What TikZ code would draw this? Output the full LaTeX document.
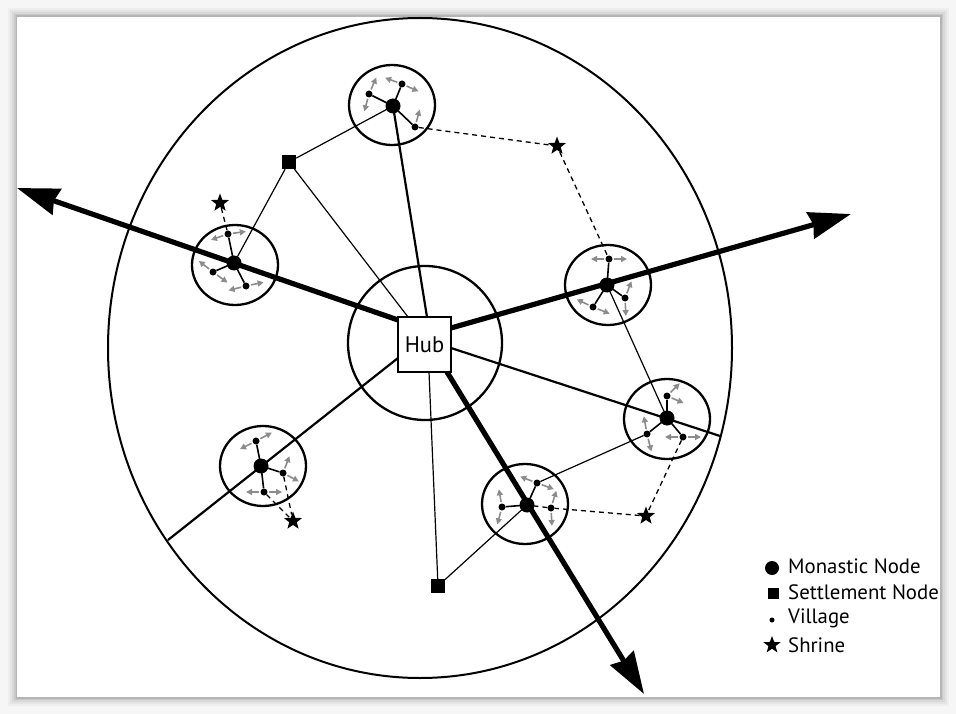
\documentclass[tikz,border=0pt]{standalone}
\usepackage{fontspec}
\setmainfont{PT Sans}
\usetikzlibrary{arrows.meta,shapes.geometric,calc}
\definecolor{garrowc}{RGB}{140,140,140}
\definecolor{pagebg}{RGB}{246,246,246}
\begin{document}
\begin{tikzpicture}[x=1pt,y=-1pt,
  mono/.style={circle,fill=black,inner sep=0pt,minimum size=14pt},
  vil/.style={circle,fill=black,inner sep=0pt,minimum size=7pt},
  settle/.style={rectangle,fill=black,inner sep=0pt,minimum size=14pt},
  shrine/.style={star,star points=5,star point ratio=2.4,fill=black,inner sep=0pt,minimum size=19pt},
  ring/.style={line width=2.3pt},
  thickarrow/.style={line width=5.2pt,-{Stealth[length=42pt,width=27pt,inset=3pt]}},
  medline/.style={line width=2.2pt},
  thinline/.style={line width=1.2pt},
  spoke/.style={line width=1.6pt},
  dashline/.style={line width=1.3pt,dash pattern=on 5pt off 4pt},
  garrow/.style={draw=garrowc,line width=1.6pt,-{Triangle[length=6pt,width=6pt]}},
  legtext/.style={anchor=west,inner sep=0pt,font=\fontsize{20.8}{24}\selectfont}
]
% page and frame
\fill[pagebg] (0,0) rectangle (956,714);
\foreach \i/\o in {9/0.03,7/0.04,5/0.05,3/0.07,1.5/0.09}{
  \fill[black,opacity=\o] (17-\i,17-\i) rectangle (940+\i,697+\i);
}
\fill[white] (17,17) rectangle (940,697);
\useasboundingbox (0,0) rectangle (956,714);

% rings
\draw[line width=2pt] (420,348) ellipse [x radius=312pt, y radius=330pt];
\draw[ring] (425,343) circle [radius=77pt];
\foreach \c in {(392,105),(235,265),(608,285),(667,419),(525,504),(263,466)}{
  \draw[ring] \c ellipse [x radius=43pt, y radius=40pt];
}

% nodes
\node[mono] (T) at (393,106) {};
\node[mono] (L) at (234,263) {};
\node[mono] (R) at (607,285) {};
\node[mono] (RL) at (667,418) {};
\node[mono] (B) at (527,505) {};
\node[mono] (LL) at (261,466) {};

\node[vil] (T1) at (369,94) {};
\node[vil] (T2) at (402,84) {};
\node[vil] (T3) at (415,127) {};
\node[vil] (L1) at (228,234) {};
\node[vil] (L2) at (213,272) {};
\node[vil] (L3) at (246,286) {};
\node[vil] (R1) at (609,259) {};
\node[vil] (R2) at (625,298) {};
\node[vil] (R3) at (593,307) {};
\node[vil] (RL1) at (667,396) {};
\node[vil] (RL2) at (647,434) {};
\node[vil] (RL3) at (683,437) {};
\node[vil] (B1) at (537,483) {};
\node[vil] (B2) at (502,507) {};
\node[vil] (B3) at (551,508) {};
\node[vil] (LL1) at (256,441) {};
\node[vil] (LL2) at (283,473) {};
\node[vil] (LL3) at (264,492) {};

\node[settle] (S1) at (289,162) {};
\node[settle] (S2) at (438,586) {};

\node[shrine] (H1) at (557,146) {};
\node[shrine] (H2) at (220,203) {};
\node[shrine] (H3) at (646,516) {};
\node[shrine] (H4) at (293,521) {};

\node[draw,line width=2.3pt,fill=white,minimum width=53pt,minimum height=55pt,inner sep=0pt,
      font=\fontsize{22.5}{26}\selectfont] (hub) at (424.5,344.5) {Hub};

% hub border points and free ends
\coordinate (hL) at (398,320);
\coordinate (hR) at (451,328);
\coordinate (hB) at (447,372);
\coordinate (hT) at (427,317);
\coordinate (hRL) at (451,348);
\coordinate (hLL) at (398,358);
\coordinate (hS1) at (408,317);
\coordinate (hS2) at (429,372);
\coordinate (tipL) at (17,188);
\coordinate (tipR) at (851,214);
\coordinate (tipB) at (644,694);
\coordinate (eRL) at (720,436);
\coordinate (eLL) at (168,540);

% spokes
\foreach \m/\v in {T/T1,T/T2,T/T3,L/L1,L/L2,L/L3,R/R1,R/R2,R/R3,RL/RL1,RL/RL2,RL/RL3,B/B1,B/B2,LL/LL1,LL/LL2,LL/LL3}{
  \draw[spoke] (\m) -- (\v);
}
% thin links
\draw[thinline] (S1) -- (T);
\draw[thinline] (S1) -- (L);
\draw[thinline] (S1) -- (hS1);
\draw[thinline] (hS2) -- (S2);
\draw[thinline] (S2) -- (B);
\draw[thinline] (B1) -- (RL2);
\draw[thinline] (R) -- (RL);
% medium links
\draw[medline] (hT) -- (T);
\draw[medline] (hRL) -- (eRL);
\draw[medline] (hLL) -- (eLL);
% dashed
\draw[dashline] (T3) -- (H1) -- (R1);
\draw[dashline] (H2) -- (L1);
\draw[dashline] (RL3) -- (H3) -- (B3) -- (B);
\draw[dashline] (LL2) -- (H4);
\draw[dashline] (LL3) -- (H4);
% thick arrows
\draw[thickarrow] (hL) -- (tipL);
\draw[thickarrow] (hR) -- (tipR);
\draw[thickarrow] (hB) -- (tipB);

% monastic dots on top of the lines
\foreach \n in {T,L,R,RL,B,LL}{\fill (\n) circle [radius=7.5pt];}

% gray arrows
\newcommand{\garr}[2]{\draw[garrow] (#1) ++(#2:5) -- ++(#2:13);}
\garr{T1}{-66}\garr{T1}{105}
\garr{T2}{200}\garr{T2}{24}
\garr{T3}{-75}
\garr{L1}{161}\garr{L1}{-8}
\garr{L2}{218}\garr{L2}{36}
\garr{L3}{166}\garr{L3}{-12}
\garr{R1}{180}\garr{R1}{0}
\garr{R2}{-69}\garr{R2}{87}
\garr{R3}{205}\garr{R3}{22}
\garr{RL1}{-45}\garr{RL1}{23}
\garr{RL2}{-100}\garr{RL2}{76}
\garr{RL3}{180}\garr{RL3}{0}
\garr{B1}{201}\garr{B1}{20}
\garr{B2}{-100}\garr{B2}{105}
\garr{B3}{-73}\garr{B3}{87}
\garr{LL1}{153}\garr{LL1}{-28}
\garr{LL2}{-69}\garr{LL2}{28}
\garr{LL3}{180}\garr{LL3}{0}

% legend
\node[circle,fill=black,inner sep=0pt,minimum size=14pt] (k1) at (772,568) {};
\node[rectangle,fill=black,inner sep=0pt,minimum size=11pt] (k2) at (773,593) {};
\node[circle,fill=black,inner sep=0pt,minimum size=5pt] (k3) at (772,620) {};
\node[star,star points=5,star point ratio=2.4,fill=black,inner sep=0pt,minimum size=18pt] (k4) at (772,645) {};
\node[legtext] (t1) at (788,566) {Monastic Node};
\node[legtext] (t2) at (788,592) {Settlement Node};
\node[legtext] (t3) at (788,618) {Village};
\node[legtext] (t4) at (788,645) {Shrine};
\end{tikzpicture}
\end{document}
